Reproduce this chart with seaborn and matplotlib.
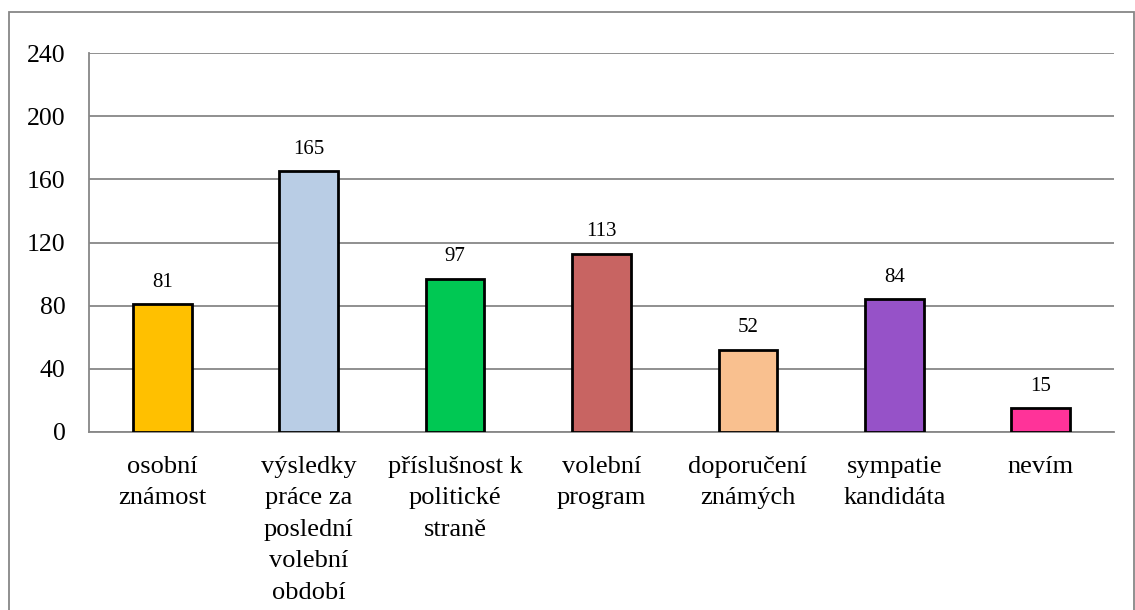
import pandas as pd
import matplotlib.pyplot as plt
import seaborn as sns
from matplotlib.patches import Rectangle

kategorie = ["osobní\nznámost", "výsledky\npráce za\nposlední\nvolební\nobdobí",
             "příslušnost k\npolitické\nstraně", "volební\nprogram",
             "doporučení\nznámých", "sympatie\nkandidáta", "nevím"]
pocty = [81, 165, 97, 113, 52, 84, 15]
barvy = ["#FFC000", "#B9CDE5", "#00C853", "#C86462", "#F9C08F", "#9652C8", "#FF3399"]
y_ticks = [0, 40, 80, 120, 160, 200, 240]

sns.set_style("white")
plt.rcParams['font.family'] = ['Liberation Serif', 'DejaVu Serif']
plt.rcParams['text.color'] = 'black'

df = pd.DataFrame({'kategorie': kategorie, 'pocet': pocty})

fig = plt.figure(figsize=(11.35, 6.10), dpi=100)
ax = fig.add_axes([89 / 1135, 1 - 432 / 610, (1114 - 89) / 1135, (432 - 53) / 610])

sns.barplot(data=df, x='kategorie', y='pocet', hue='kategorie', palette=barvy,
            saturation=1, legend=False, width=0.4, edgecolor='black',
            linewidth=2, ax=ax, zorder=3)

for c in ax.containers:
    ax.bar_label(c, fontsize=15, padding=9, color='black')

ax.set_ylim(0, 240)
ax.set_yticks(y_ticks)
ax.set_xlim(-0.5, len(kategorie) - 0.5)
ax.yaxis.grid(True, color='#878787', linewidth=1.3, zorder=0)
ax.set_axisbelow(True)
ax.set_xlabel('')
ax.set_ylabel('')

for s in ['top', 'right']:
    ax.spines[s].set_visible(False)
for s in ['left', 'bottom']:
    ax.spines[s].set_color('#878787')
    ax.spines[s].set_linewidth(1.3)

ax.tick_params(axis='y', length=6, width=1.3, color='#878787', labelsize=18.5,
               pad=11, labelcolor='black')
ax.set_xticks(range(len(kategorie)))
ax.set_xticklabels(kategorie, fontsize=19, linespacing=1.56)
ax.tick_params(axis='x', which='major', length=0, pad=17, labelcolor='black')
ax.set_xticks([i - 0.5 for i in range(len(kategorie) + 1)], minor=True)
ax.tick_params(axis='x', which='minor', length=6, width=1.3, color='#878787')

# outer frame of the chart area
fig.patches.append(Rectangle((9 / 1135, -0.1), (1134 - 9) / 1135, 1.1 - 12 / 610,
                             transform=fig.transFigure, fill=False,
                             edgecolor='#878787', linewidth=1.3))

plt.savefig("out.png", dpi=100)
